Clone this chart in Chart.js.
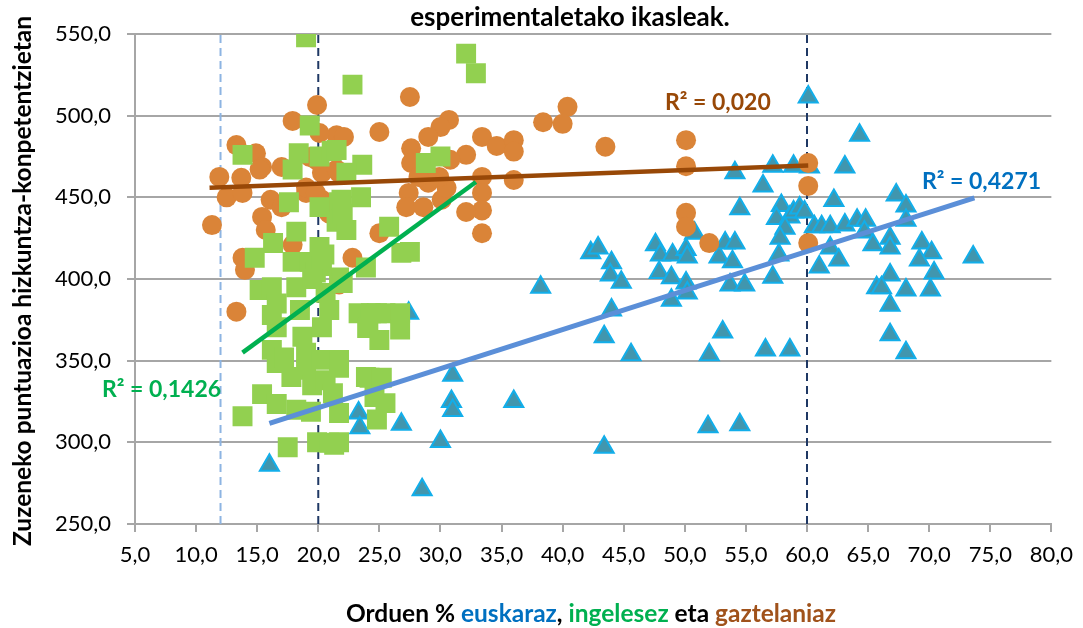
<!DOCTYPE html>
<html>
<head>
<meta charset="utf-8">
<script src="https://cdn.jsdelivr.net/npm/chart.js@4.4.1/dist/chart.umd.min.js"></script>
<style>
  html, body { margin: 0; padding: 0; background: #fff; }
  #wrap { width: 1083px; height: 628px; position: relative; }
</style>
</head>
<body>
<div id="wrap"><canvas id="chart"></canvas></div>
<script>
// euskaraz (triangles)
const eusX = [16.0, 23.3, 23.4, 26.8, 27.4, 28.5, 30.0, 31.0, 30.9, 31.0, 36.0, 38.2, 42.3, 42.9, 44.0, 43.9, 44.8, 44.0, 43.4, 45.6,
  43.4, 47.6, 48.0, 47.9, 49.0, 48.9, 48.9, 50.1, 50.2, 50.1, 50.2, 50.8, 52.0, 53.1, 51.9, 54.5, 52.8, 53.3, 54.1, 53.9,
  53.7, 54.9, 54.1, 54.5, 56.4, 57.2, 58.9, 57.9, 57.5, 58.6, 58.2, 57.8, 57.7, 57.2, 56.6, 58.6, 60.1, 64.3, 63.1, 60.2,
  62.2, 67.3, 68.1, 68.1, 58.9, 59.4, 59.8, 60.6, 61.2, 61.9, 63.1, 64.1, 64.8, 64.7, 65.4, 66.8, 66.8, 69.4, 70.2, 69.2,
  73.6, 61.9, 62.6, 61.0, 70.4, 66.8, 65.7, 68.1, 70.1, 66.1, 66.8, 66.8, 68.1];
const eusY = [286, 318, 309, 311, 379, 271, 300.5, 341, 325, 319.5, 325, 395, 416, 419, 410, 402.5, 398, 381, 364.6, 353.6,
  297, 421, 414.7, 404, 414.7, 400.7, 387, 418, 413.5, 397.6, 391.5, 428, 353.6, 367.6, 309.5, 310.7, 413.5, 422, 422, 410.5,
  396.4, 396.4, 465, 443, 457, 469, 469, 445, 437, 438, 431, 425, 414.7, 401, 356.6, 356.6, 511.5, 488, 468.6, 468.6,
  448, 451.5, 444.7, 436, 441, 443.5, 441, 432, 432, 432, 433, 436, 436, 428.8, 421, 425, 419, 422, 416, 411.7,
  413.5, 419, 411.7, 407.4, 403.7, 402.5, 394.6, 393.3, 393.3, 394.6, 384, 365.8, 354.8];

// ingelesez (squares)
const ingX = [19.0, 32.1, 32.9, 22.8, 19.3, 13.8, 18.4, 20.1, 21.1, 17.9, 23.6, 22.3, 28.8, 30.0, 17.6, 20.1, 21.7, 23.5, 18.2, 21.5,
  22.3, 25.8, 16.3, 20.1, 14.8, 17.9, 19.3, 26.8, 27.5, 23.9, 21.5, 21.9, 22.0, 21.7,
  13.8, 15.4, 16.6, 17.5, 19.9, 20.9, 21.7, 18.2, 19.4, 21.7, 15.2, 16.2, 16.6, 16.2, 16.6, 16.2, 16.6, 18.2, 18.5, 18.7,
  19.0, 19.0, 20.3, 20.3, 20.9, 20.6, 19.8, 21.7, 22.0, 23.3, 24.1, 24.8, 23.9, 24.6, 24.8, 21.3, 24.3, 24.0, 25.0, 25.5,
  26.7, 26.7, 24.2, 25.2, 25.5, 21.7, 20.5, 20.3, 19.5, 17.2, 17.8, 19.5, 20.6, 21.2];
const ingY = [548, 538, 526, 519, 494, 476, 477, 475, 478.4, 467, 470, 465, 471, 475, 447, 444, 447, 450, 429, 435,
  430, 432, 422, 419.6, 413, 410.5, 410.5, 416, 416.6, 407, 479, 448.5, 440, 401,
  316, 329.5, 323.5, 297, 300, 299.7, 300, 320, 318.7, 318, 393.3, 395, 385, 378, 370.5, 356.6, 348.6, 395, 381, 364.6,
  354.8, 344.4, 350.5, 370.5, 381, 391.5, 404, 350.5, 397.6, 379, 370.5, 379, 340, 327.8, 314, 298.5, 379, 370, 362.7, 379,
  379, 369, 339.5, 339.5, 324, 345.6, 415, 408, 400, 352, 340, 335, 338, 330];

// gaztelaniaz (circles)
const gazX = [19.9, 17.9, 21.5, 22.1, 25.0, 27.5, 30.7, 30.0, 29.0, 27.6, 33.4, 34.6, 32.1, 27.6, 30.8, 33.4, 33.4, 33.4, 33.4, 32.1,
  30.1, 27.4, 27.2, 28.6, 25.0, 22.8, 13.3, 14.9, 11.3, 11.9, 12.5, 13.8, 15.4, 16.1, 15.4, 15.7, 17.9, 13.8, 17.0, 19.3,
  20.3, 19.0, 20.3, 20.9, 21.7, 20.1, 13.7, 15.2, 17.0, 14.0, 19.8, 21.5, 19.0, 19.8, 36.0, 36.0, 38.4, 36.0, 30.5, 29.9,
  29.0, 28.2, 40.4, 40.0, 43.5, 50.1, 50.1, 50.1, 50.1, 52.0, 60.1, 60.1, 60.1, 13.3, 21.7];
const gazY = [506.5, 496.8, 488, 487, 490, 511.4, 497.4, 493, 487, 480, 487, 481.5, 476, 471, 473, 462.5, 452.7, 442, 428, 441,
  448.5, 452.7, 444, 444, 428, 413, 482, 477, 433, 462.5, 450, 452.7, 468.6, 448.5, 438, 430, 421, 413, 468.6, 474.7,
  465, 452.7, 448.5, 440, 465, 489.4, 462, 467, 444, 405.6, 473, 467, 456, 452.7, 485, 478, 496, 460.6, 455.8, 462.5,
  459, 462.5, 505.4, 495, 481, 485, 469, 440.5, 432, 422, 471, 457, 422, 380, 396.6];

// linear trend lines (end points)
const trendGazX = [11.1, 60.1], trendGazY = [455.8, 469.5];
const trendIngX = [13.8, 32.9], trendIngY = [354.9, 459.4];
const trendEusX = [16.0, 73.7], trendEusY = [311.6, 449.6];

// vertical reference lines
const refLinesX = [12, 20, 60];

const xTicks = { min: 5, max: 80, step: 5 };
const yTicks = { min: 250, max: 550, step: 50 };

const toPts = (xs, ys) => xs.map((x, i) => ({ x: x, y: ys[i] }));
const fmt = v => v.toFixed(1).replace('.', ',');
const FONT = 'Lato, "Open Sans", sans-serif';

const refColors = ['#8db4e2', '#1f3864', '#1f3864'];
const refSets = refLinesX.map((x, i) => ({
    type: 'line',
    data: [{ x: x, y: yTicks.min }, { x: x, y: yTicks.max }],
    borderColor: refColors[i],
    borderWidth: 2,
    borderDash: [8, 5],
    pointRadius: 0,
    order: 10
}));

const textPlugin = {
    id: 'texts',
    afterDraw(chart) {
        const ctx = chart.ctx;
        ctx.save();
        ctx.textBaseline = 'middle';

        // title
        ctx.font = 'bold 26px ' + FONT;
        ctx.fillStyle = '#000';
        ctx.textAlign = 'center';
        ctx.fillText('esperimentaletako ikasleak.', 570, 18);

        // R2 labels
        ctx.textAlign = 'left';
        ctx.font = 'bold 23px ' + FONT;
        ctx.fillStyle = '#984807';
        ctx.fillText('R² = 0,020', 665, 103);
        ctx.fillStyle = '#0070c0';
        ctx.fillText('R² = 0,4271', 922, 182);
        ctx.fillStyle = '#00b050';
        ctx.fillText('R² = 0,1426', 102, 390);

        // x axis title in several colours
        const parts = [['Orduen % ', '#000'], ['euskaraz', '#0070c0'], [', ', '#000'],
            ['ingelesez', '#00b050'], [' eta ', '#000'], ['gaztelaniaz', '#a0521b']];
        ctx.font = 'bold 24.5px ' + FONT;
        let total = parts.reduce((s, p) => s + ctx.measureText(p[0]).width, 0);
        let x = 591 - total / 2;
        parts.forEach(p => {
            ctx.fillStyle = p[1];
            ctx.fillText(p[0], x, 614);
            x += ctx.measureText(p[0]).width;
        });

        // y axis title
        ctx.translate(23, 281);
        ctx.rotate(-Math.PI / 2);
        ctx.textAlign = 'center';
        ctx.fillStyle = '#000';
        ctx.fillText('Zuzeneko puntuazioa hizkuntza-konpetentzietan', 0, 0);
        ctx.restore();
    }
};

new Chart(document.getElementById('chart'), {
    type: 'scatter',
    data: {
        datasets: [
            { type: 'line', data: toPts(trendGazX, trendGazY), borderColor: '#984807', borderWidth: 4.5, pointRadius: 0, order: 0 },
            { type: 'line', data: toPts(trendIngX, trendIngY), borderColor: '#00b050', borderWidth: 4.5, pointRadius: 0, order: 0 },
            { type: 'line', data: toPts(trendEusX, trendEusY), borderColor: '#5b8fd8', borderWidth: 5, pointRadius: 0, order: 0 },
            {
                label: 'ingelesez',
                data: toPts(ingX, ingY),
                pointStyle: 'rect',
                pointRadius: 14.1,
                backgroundColor: '#92d050',
                borderColor: '#92d050',
                borderWidth: 0,
                order: 1
            },
            {
                label: 'gaztelaniaz',
                data: toPts(gazX, gazY),
                pointStyle: 'circle',
                pointRadius: 10,
                backgroundColor: '#da8438',
                borderColor: '#da8438',
                borderWidth: 0,
                order: 2
            },
            {
                label: 'euskaraz',
                data: toPts(eusX, eusY),
                pointStyle: 'triangle',
                pointRadius: 11,
                backgroundColor: '#4196ae',
                borderColor: '#12aeea',
                borderWidth: 2,
                order: 3
            },
            ...refSets
        ]
    },
    options: {
        responsive: true,
        maintainAspectRatio: false,
        animation: false,
        devicePixelRatio: 1,
        layout: { padding: { left: 0, top: 34, right: 23, bottom: 0 } },
        plugins: {
            legend: { display: false },
            tooltip: { enabled: false }
        },
        scales: {
            x: {
                type: 'linear',
                min: xTicks.min,
                max: xTicks.max,
                afterFit: s => { s.height = 104; },
                ticks: {
                    stepSize: xTicks.step,
                    callback: v => fmt(v),
                    color: '#000',
                    padding: 10,
                    maxRotation: 0,
                    font: { family: FONT, size: 22 }
                },
                grid: { drawOnChartArea: false, drawTicks: true, tickLength: 8, color: '#a6a6a6', lineWidth: 2 },
                border: { color: '#a6a6a6', width: 2 }
            },
            y: {
                type: 'linear',
                min: yTicks.min,
                max: yTicks.max,
                afterFit: s => { s.width = 135; },
                ticks: {
                    stepSize: yTicks.step,
                    callback: v => fmt(v),
                    color: '#000',
                    padding: 16,
                    font: { family: FONT, size: 22 }
                },
                grid: { color: '#a6a6a6', lineWidth: 2, tickLength: 8 },
                border: { color: '#a6a6a6', width: 2 }
            }
        }
    },
    plugins: [textPlugin]
});
</script>
</body>
</html>
